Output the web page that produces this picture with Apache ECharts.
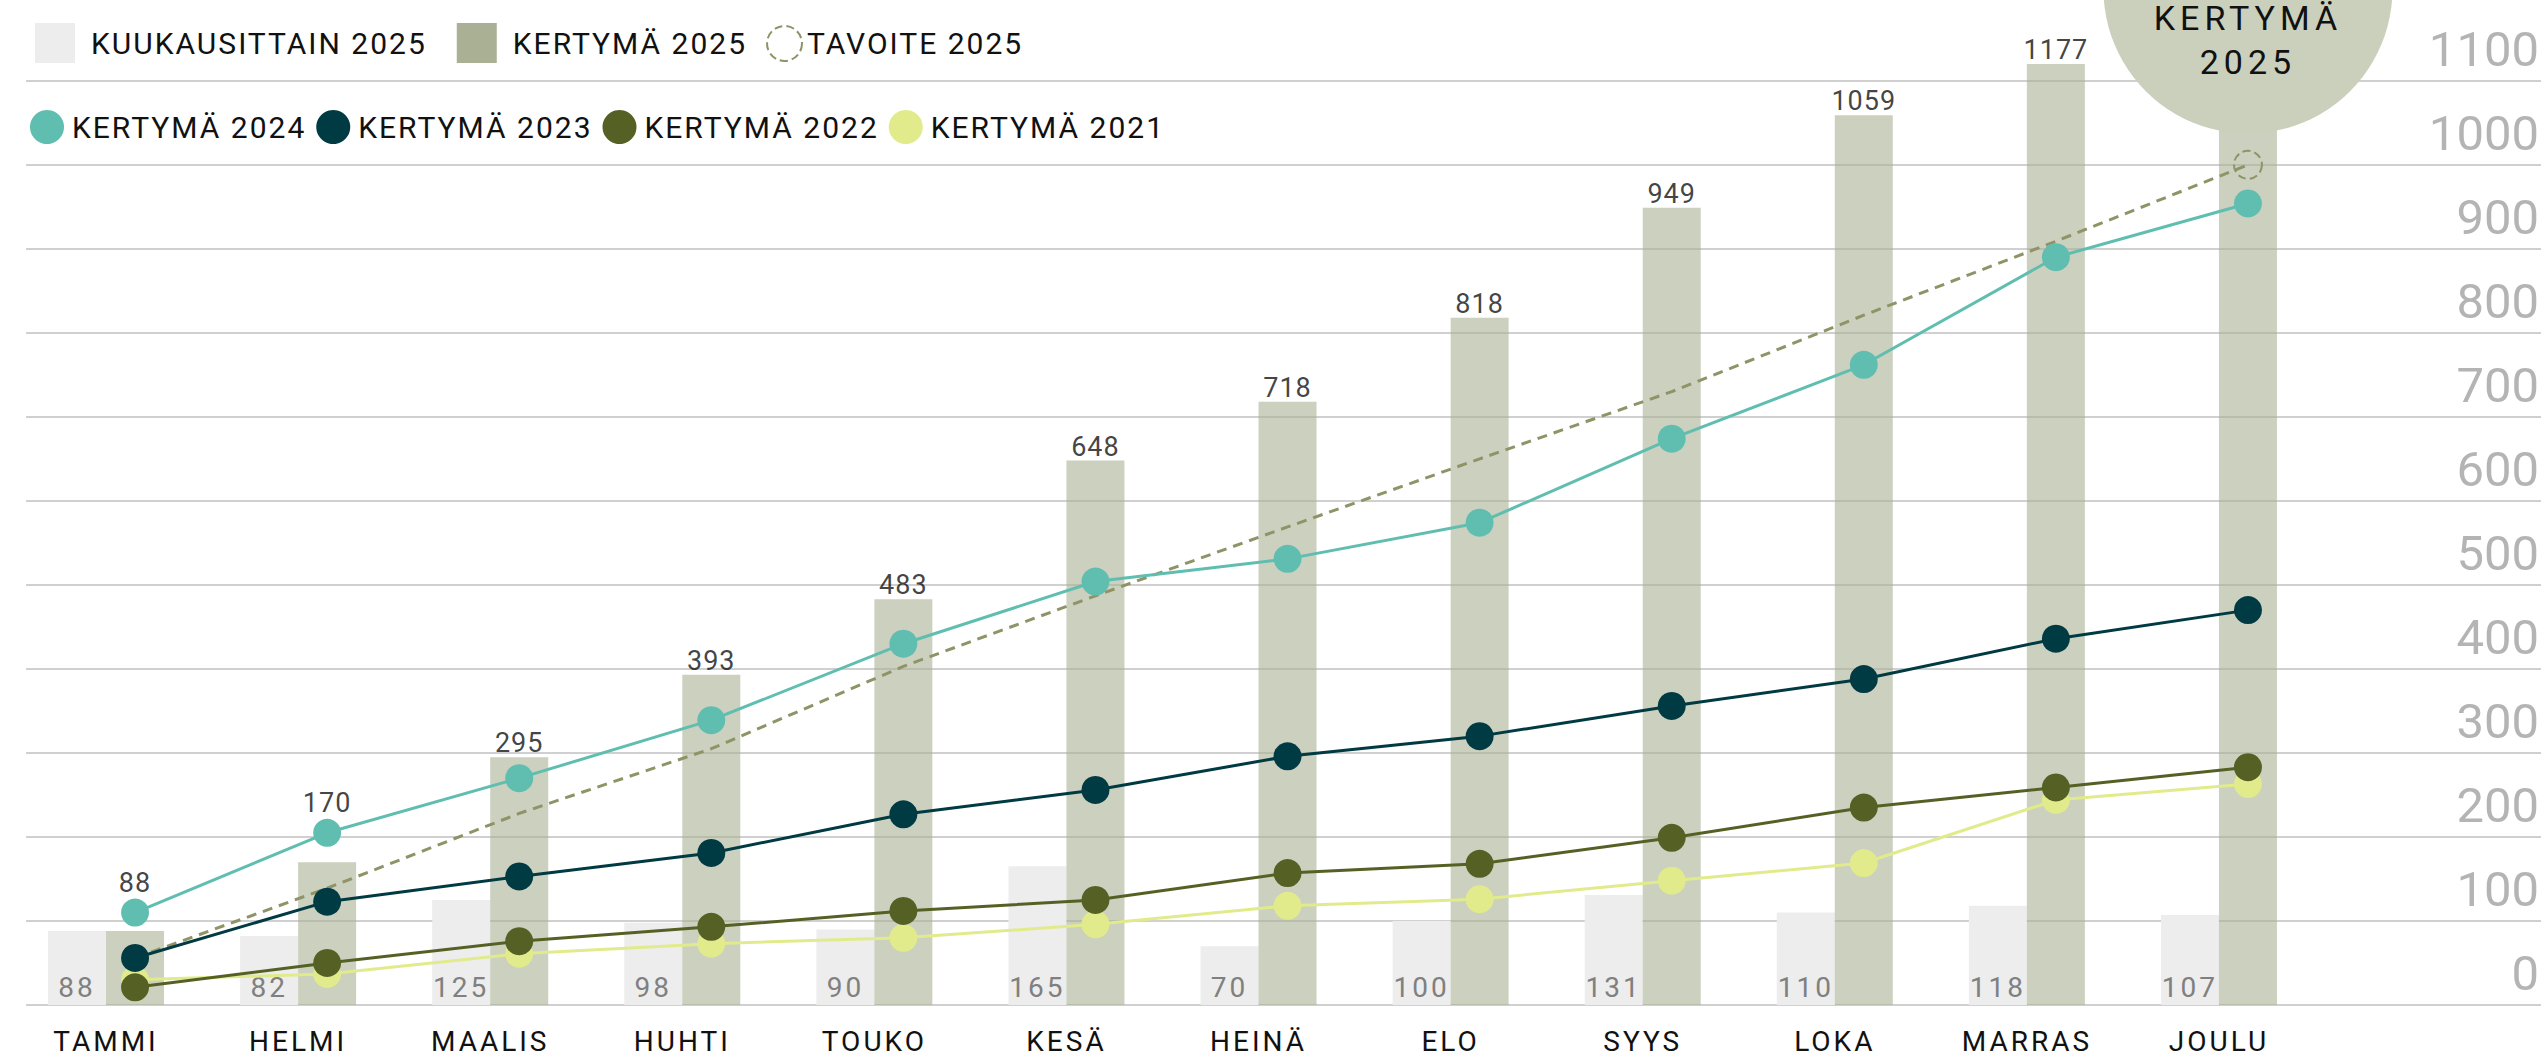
<!DOCTYPE html>
<html>
<head>
<meta charset="utf-8">
<title>Kertymä 2025</title>
<script src="https://cdn.jsdelivr.net/npm/echarts@6/dist/echarts.min.js"></script>
<style>
  html, body { margin: 0; padding: 0; background: #fff; }
  #chart { width: 2546px; height: 1060px; }
  /* harvennettu teksti kuten alkuperäisessä */
  #chart text { letter-spacing: 2px; }
  #chart text[style*="49px"] { letter-spacing: 0; }
  #chart text[style*="28px"] { letter-spacing: 3px; }
  #chart text[style*="27px"] { letter-spacing: 1px; }
  #chart text[style*="34px"] { letter-spacing: 5px; }
</style>
</head>
<body>
<div id="chart"></div>
<script>
// kuukaudet (x-akseli)
const months = ['TAMMI', 'HELMI', 'MAALIS', 'HUHTI', 'TOUKO', 'KESÄ', 'HEINÄ', 'ELO', 'SYYS', 'LOKA', 'MARRAS', 'JOULU']
// 2025 kuukausittain ja kertymä
const monthly2025 = [88, 82, 125, 98, 90, 165, 70, 100, 131, 110, 118, 107]
const cumulative2025 = [88, 170, 295, 393, 483, 648, 718, 818, 949, 1059, 1177, 1284]
// tavoite 2025
const target2025 = [56, 139, 228, 305, 403, 487, 569, 650, 730, 821, 909, 1000]
// aiempien vuosien kertymät
const cumulative2024 = [110, 205, 270, 339, 430, 504, 531, 574, 674, 762, 890, 954]
const cumulative2023 = [56, 123, 153, 181, 227, 256, 296, 320, 356, 388, 436, 470]
const cumulative2022 = [21, 50, 76, 93, 112, 125, 157, 168, 199, 235, 259, 283]
const cumulative2021 = [30, 37, 61, 73, 80, 96, 118, 126, 148, 169, 244, 263]
// y-akselin asteikko
const yMin = 0
const yMax = 1120
const yStep = 100

const FONT = 'Roboto'
const last = months.length - 1

// kertymäpylväiden arvojen paikka: pylvään tai korkeimman pisteen yläpuolelle
const lineSets = [cumulative2024, cumulative2023, cumulative2022, cumulative2021, target2025]
const labelData = cumulative2025.map(function (v, i) {
  if (i === last) return '-'
  const top = Math.max.apply(null, lineSets.map(function (s) { return s[i] }))
  const lineWins = top > v
  return {
    value: Math.min(lineWins ? top : v, yMax),
    label: { distance: lineWins ? 16 : 0 }
  }
})

const targetData = target2025.map(function (v, i) {
  return { value: v, symbolSize: i === last ? 28 : 0 }
})

function lineSeries(name, data, color) {
  return {
    name: name,
    type: 'line',
    xAxisIndex: 2,
    yAxisIndex: 2,
    data: data,
    symbol: 'circle',
    symbolSize: 28,
    itemStyle: { color: color },
    lineStyle: { color: color, width: 3 }
  }
}

const chart = echarts.init(document.getElementById('chart'), null, { renderer: 'svg' })
chart.setOption({
  animation: false,
  textStyle: { fontFamily: FONT },
  legend: [
    {
      data: [
        { name: 'KUUKAUSITTAIN 2025', icon: 'rect' },
        { name: 'KERTYMÄ 2025', icon: 'rect', itemStyle: { color: '#a9b094', opacity: 1 } }
      ],
      left: 30,
      top: 18,
      itemWidth: 40,
      itemHeight: 40,
      itemGap: 66,
      selectedMode: false,
      textStyle: { fontSize: 30, color: '#111', fontFamily: FONT, padding: [0, 0, 0, 11] }
    },
    {
      data: [
        {
          name: 'TAVOITE 2025',
          icon: 'circle',
          itemStyle: { color: '#fff', borderColor: '#8f9366', borderWidth: 2, borderType: 'dashed' }
        }
      ],
      left: 761,
      top: 20,
      itemWidth: 35,
      itemHeight: 35,
      selectedMode: false,
      lineStyle: { width: 0 },
      textStyle: { fontSize: 30, color: '#111', fontFamily: FONT }
    },
    {
      data: ['KERTYMÄ 2024', 'KERTYMÄ 2023', 'KERTYMÄ 2022', 'KERTYMÄ 2021'],
      icon: 'circle',
      left: 25,
      top: 105,
      itemWidth: 34,
      itemHeight: 34,
      itemGap: 34,
      selectedMode: false,
      lineStyle: { width: 0 },
      textStyle: { fontSize: 30, color: '#111', fontFamily: FONT, padding: [0, 0, 0, 3] }
    }
  ],
  grid: [
    { left: 26, right: 5, top: 64, bottom: 55 },
    { left: 10, width: 2305, top: 64, bottom: 55 },
    { left: 39, width: 2305, top: 64, bottom: 55 }
  ],
  xAxis: [
    { gridIndex: 0, type: 'value', min: 0, max: 1, show: false },
    {
      gridIndex: 1,
      type: 'category',
      data: months,
      axisLine: { show: false },
      axisTick: { show: false },
      axisLabel: { fontSize: 28, color: '#111', margin: 22, fontFamily: FONT }
    },
    { gridIndex: 2, type: 'category', data: months, show: false }
  ],
  yAxis: [
    {
      gridIndex: 0,
      type: 'value',
      position: 'right',
      min: yMin,
      max: yMax,
      interval: yStep,
      axisLine: { show: false },
      axisTick: { show: false },
      axisLabel: {
        inside: true,
        margin: 2,
        fontSize: 49,
        color: '#b4b4b4',
        fontFamily: FONT,
        verticalAlign: 'bottom',
        padding: [0, 0, 7, 0],
        showMaxLabel: false,
        formatter: function (v) { return v % yStep === 0 ? String(v) : '' }
      },
      splitLine: { showMaxLine: false, lineStyle: { color: '#d0d0d0', width: 2 } }
    },
    { gridIndex: 1, type: 'value', min: yMin, max: yMax, show: false },
    { gridIndex: 2, type: 'value', min: yMin, max: yMax, show: false }
  ],
  series: [
    {
      name: 'KUUKAUSITTAIN 2025',
      type: 'bar',
      xAxisIndex: 1,
      yAxisIndex: 1,
      data: monthly2025,
      barWidth: 58,
      barGap: '0%',
      itemStyle: { color: '#ededed' },
      label: {
        show: true,
        position: 'insideBottom',
        distance: 4,
        color: '#808080',
        fontSize: 28,
        fontFamily: FONT
      }
    },
    {
      name: 'KERTYMÄ 2025',
      type: 'bar',
      xAxisIndex: 1,
      yAxisIndex: 1,
      data: cumulative2025,
      barWidth: 58,
      barGap: '0%',
      itemStyle: { color: '#a9b094', opacity: 0.6 },
      markPoint: {
        silent: true,
        symbol: 'circle',
        symbolSize: 289,
        symbolOffset: [0, -75],
        itemStyle: { color: '#cbd0bc', opacity: 1 },
        label: {
          show: true,
          formatter: 'KERTYMÄ\n2025',
          offset: [0, 51],
          color: '#111',
          fontSize: 34,
          lineHeight: 44,
          fontFamily: FONT
        },
        data: [{ coord: [months[last], yMax] }]
      }
    },
    {
      name: 'TAVOITE 2025',
      type: 'line',
      xAxisIndex: 2,
      yAxisIndex: 2,
      data: targetData,
      symbol: 'circle',
      itemStyle: { color: 'rgba(0,0,0,0)', borderColor: '#8f9366', borderWidth: 2, borderType: 'dashed' },
      lineStyle: { color: '#8f9366', width: 3, type: [10, 7] }
    },
    lineSeries('KERTYMÄ 2021', cumulative2021, '#e1eb8c'),
    lineSeries('KERTYMÄ 2022', cumulative2022, '#556124'),
    lineSeries('KERTYMÄ 2023', cumulative2023, '#003a42'),
    lineSeries('KERTYMÄ 2024', cumulative2024, '#5fbeb0'),
    {
      // kertymäpylväiden arvot
      name: 'arvot',
      type: 'scatter',
      xAxisIndex: 2,
      yAxisIndex: 2,
      data: labelData,
      symbolSize: 1,
      silent: true,
      z: 10,
      itemStyle: { color: 'rgba(0,0,0,0)' },
      label: {
        show: true,
        position: 'top',
        color: '#111',
        fontSize: 27,
        fontFamily: FONT,
        formatter: function (p) { return String(cumulative2025[p.dataIndex]) }
      }
    }
  ]
})
</script>
</body>
</html>
